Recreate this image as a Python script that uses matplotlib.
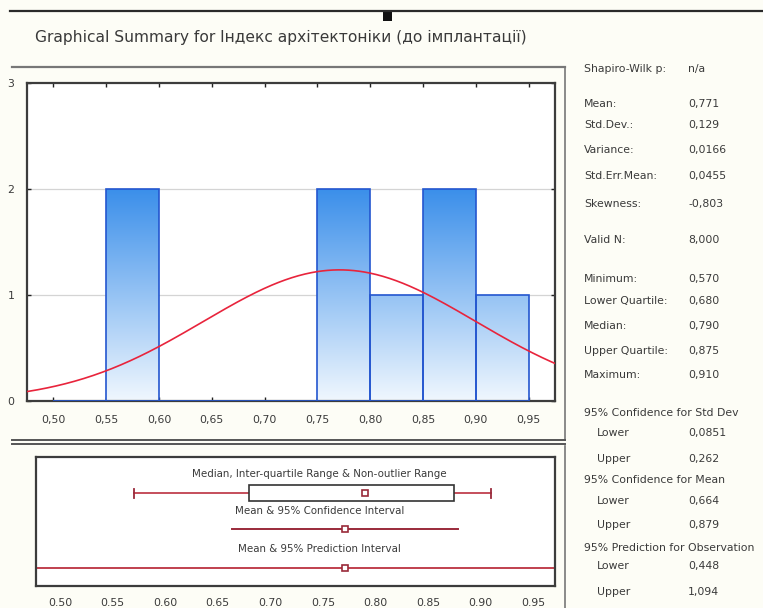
import numpy as np
import matplotlib
matplotlib.use("Agg")
import matplotlib.pyplot as plt
from matplotlib.colors import LinearSegmentedColormap
from matplotlib.lines import Line2D
from matplotlib.patches import Rectangle

# ---- data ---------------------------------------------------------------
title = "Graphical Summary for Індекс архітектоніки (до імплантації)"

bin_edges = [0.50, 0.55, 0.60, 0.65, 0.70, 0.75, 0.80, 0.85, 0.90, 0.95]
bin_counts = [0, 2, 0, 0, 0, 2, 1, 2, 1]
hist_xticks = [0.50, 0.55, 0.60, 0.65, 0.70, 0.75, 0.80, 0.85, 0.90, 0.95]
hist_yticks = [0, 1, 2, 3]

mean = 0.771
std_dev = 0.129
n_valid = 8
minimum = 0.570
lower_quartile = 0.680
median = 0.790
upper_quartile = 0.875
maximum = 0.910
ci_mean = [0.664, 0.879]
pi_obs = [0.448, 1.094]

box_xticks = [0.50, 0.55, 0.60, 0.65, 0.70, 0.75, 0.80, 0.85, 0.90, 0.95]

stat_labels = ["Shapiro-Wilk p:", "Mean:", "Std.Dev.:", "Variance:", "Std.Err.Mean:",
               "Skewness:", "Valid N:", "Minimum:", "Lower Quartile:", "Median:",
               "Upper Quartile:", "Maximum:", "95% Confidence for Std Dev", "Lower", "Upper",
               "95% Confidence for Mean", "Lower", "Upper",
               "95% Prediction for Observation", "Lower", "Upper"]
stat_values = ["n/a", "0,771", "0,129", "0,0166", "0,0455", "-0,803", "8,000",
               "0,570", "0,680", "0,790", "0,875", "0,910", "", "0,0851", "0,262",
               "", "0,664", "0,879", "", "0,448", "1,094"]

# ---- layout helpers (pixel -> figure fraction) --------------------------
W, H = 763, 608
def fx(x):
    return x / W
def fy(y):
    return 1 - y / H

plt.rcParams['font.family'] = ['DejaVu Sans']
txt_col = '#3a3a3a'
frame_col = '#3c3c3c'

fig = plt.figure(figsize=(W / 100, H / 100), dpi=100, facecolor='#fdfdf6')

# header rule and marker
fig.add_artist(Line2D([fx(10), fx(763)], [fy(11), fy(11)], color='#2a2a2a', lw=1.6))
fig.add_artist(Rectangle((fx(383), fy(21)), 9 / W, 10 / H, color='#111111', lw=0))
fig.text(fx(35), fy(37), title, fontsize=11.2, color=txt_col, va='center', ha='left')

# panel borders
fig.add_artist(Line2D([fx(12), fx(565)], [fy(67), fy(67)], color='#777777', lw=1.6))
fig.add_artist(Line2D([fx(565), fx(565)], [fy(67), fy(440)], color='#777777', lw=1.2))
fig.add_artist(Line2D([fx(12), fx(565)], [fy(440), fy(440)], color='#555555', lw=1.4))
fig.add_artist(Line2D([fx(12), fx(565)], [fy(444), fy(444)], color='#555555', lw=1.4))
fig.add_artist(Line2D([fx(565), fx(565)], [fy(446), fy(608)], color='#777777', lw=1.2))

# ---- histogram ----------------------------------------------------------
ax = fig.add_axes([fx(27), fy(401), (555 - 27) / W, (401 - 83) / H])
ax.set_facecolor('white')
for v in [1, 2]:
    ax.axhline(v, color='#d4d4d4', lw=0.9, zorder=0)

lefts = np.array(bin_edges[:-1])
widths = np.diff(bin_edges)
bars = ax.bar(lefts, bin_counts, width=widths, align='edge',
              facecolor='none', edgecolor='#2456cf', linewidth=1.2, zorder=3)

blue_grad = LinearSegmentedColormap.from_list('bluegrad', ['#f0f7fe', '#3b8fea'])
grad = np.linspace(0, 1, 256).reshape(-1, 1)
for b, c in zip(bars, bin_counts):
    if c == 0:
        continue
    im = ax.imshow(grad, cmap=blue_grad, origin='lower', aspect='auto',
                   extent=[b.get_x(), b.get_x() + b.get_width(), 0, max(bin_counts)],
                   zorder=2, interpolation='bilinear')
    im.set_clip_path(b)
ax.set_xlim(0.475, 0.975)
ax.set_ylim(0, 3)

# fitted normal curve scaled to counts
xs = np.linspace(0.475, 0.975, 400)
bw = bin_edges[1] - bin_edges[0]
curve = n_valid * bw * np.exp(-0.5 * ((xs - mean) / std_dev) ** 2) / (std_dev * np.sqrt(2 * np.pi))
ax.plot(xs, curve, color='#e8243c', lw=1.2, zorder=4)

ax.set_xticks(hist_xticks)
ax.set_xticklabels([f"{v:.2f}".replace('.', ',') for v in hist_xticks])
ax.set_yticks(hist_yticks)
ax.set_yticklabels([str(v) for v in hist_yticks])
ax.tick_params(axis='both', direction='in', length=3, width=1, color='#222222',
               top=True, right=True, labelsize=7.8, labelcolor=txt_col)
ax.tick_params(axis='x', pad=10)
ax.tick_params(axis='y', pad=9)
for s in ax.spines.values():
    s.set_color(frame_col)
    s.set_linewidth(1.6)

# ---- box / interval panel -----------------------------------------------
bx = fig.add_axes([fx(36), fy(586), (555 - 36) / W, (586 - 457) / H])
bx.set_facecolor('white')
bx.set_xlim(0.477, 0.971)
bx.set_ylim(1, 0)
red = '#c0404e'
dark_red = '#9a2a3a'

y_box, y_ci, y_pi = 0.28, 0.56, 0.86
bx.plot([minimum, lower_quartile], [y_box, y_box], color=red, lw=1.3, zorder=2)
bx.plot([upper_quartile, maximum], [y_box, y_box], color=red, lw=1.3, zorder=2)
for v in [minimum, maximum]:
    bx.plot([v, v], [y_box - 0.035, y_box + 0.035], color=dark_red, lw=1.3, zorder=2)
bx.add_patch(Rectangle((lower_quartile, y_box - 0.06), upper_quartile - lower_quartile, 0.12,
                       facecolor='white', edgecolor='#333333', lw=1.2, zorder=3))
bx.plot([median], [y_box], marker='s', ms=4, mfc='white', mec=dark_red, mew=1.2, zorder=4)

bx.plot(ci_mean, [y_ci, y_ci], color=dark_red, lw=1.4, zorder=2)
bx.plot([mean], [y_ci], marker='s', ms=4, mfc='white', mec=dark_red, mew=1.2, zorder=4)

bx.plot(pi_obs, [y_pi, y_pi], color=red, lw=1.4, zorder=2)
bx.plot([mean], [y_pi], marker='s', ms=4, mfc='white', mec=dark_red, mew=1.2, zorder=4)

label_x = 0.747
bx.text(label_x, 0.13, "Median, Inter-quartile Range & Non-outlier Range", fontsize=7.4,
        color=txt_col, ha='center', va='center')
bx.text(label_x, 0.42, "Mean & 95% Confidence Interval", fontsize=7.4,
        color=txt_col, ha='center', va='center')
bx.text(label_x, 0.71, "Mean & 95% Prediction Interval", fontsize=7.4,
        color=txt_col, ha='center', va='center')

bx.set_xticks(box_xticks)
bx.set_xticklabels([f"{v:.2f}" for v in box_xticks])
bx.set_yticks([])
bx.tick_params(axis='x', length=0, pad=9, labelsize=7.8, labelcolor=txt_col)
for s in bx.spines.values():
    s.set_color(frame_col)
    s.set_linewidth(1.6)

# ---- statistics column --------------------------------------------------
row_y = [69, 104, 125, 150, 176, 204, 240, 279, 301, 326, 351, 375,
         413, 433, 459, 480, 501, 525, 548, 566, 592]
indented = {13, 14, 16, 17, 19, 20}
for i, (lab, val) in enumerate(zip(stat_labels, stat_values)):
    x_lab = 597 if i in indented else 584
    fig.text(fx(x_lab), fy(row_y[i]), lab, fontsize=7.8, color=txt_col, va='center', ha='left')
    if val:
        fig.text(fx(688), fy(row_y[i]), val, fontsize=7.8, color=txt_col, va='center', ha='left')

fig.savefig('out.png', dpi=100, facecolor=fig.get_facecolor())
